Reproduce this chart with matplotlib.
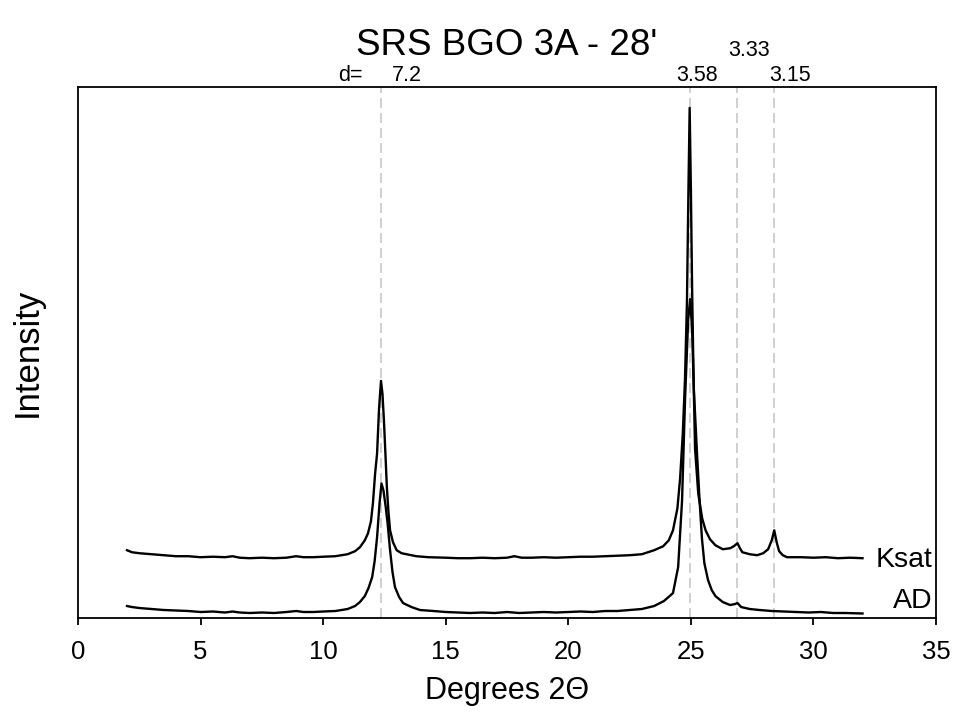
import matplotlib
matplotlib.use("Agg")
import matplotlib.pyplot as plt
from matplotlib.transforms import blended_transform_factory

plt.rcParams['font.family'] = ['Liberation Sans', 'DejaVu Sans']

# ---- data (intensity in arbitrary units) ----
ad_x = [2.0, 2.2, 2.5, 3.0, 3.5, 4.0, 4.5, 5.0, 5.5, 6.0, 6.3, 6.6, 7.0, 7.5, 8.0,
        8.5, 8.9, 9.2, 9.6, 10.0, 10.5, 11.0, 11.3, 11.5, 11.7, 11.85, 12.0, 12.1,
        12.2, 12.3, 12.38, 12.46, 12.55, 12.63, 12.73, 12.83, 12.93, 13.1, 13.26,
        13.6, 13.95, 14.5, 15.0, 15.5, 16.0, 16.5, 17.0, 17.5, 18.0, 18.5, 19.0,
        19.5, 20.0, 20.5, 21.0, 21.5, 22.0, 22.5, 23.0, 23.5, 23.9, 24.27, 24.48,
        24.64, 24.76, 24.89, 24.97, 25.05, 25.12, 25.25, 25.35, 25.45, 25.55, 25.7,
        25.85, 26.0, 26.3, 26.6, 26.8, 26.9, 27.05, 27.4, 27.8, 28.3, 28.8, 29.3,
        29.8, 30.3, 30.8, 31.3, 32.0]
ad_y = [12, 11, 10, 9, 8, 7.5, 7, 6, 6.5, 5.5, 6.5, 5.5, 5, 5.5, 5,
        6, 7, 6, 6, 6.5, 7, 9, 12, 16, 22, 30, 41, 57,
        81, 115, 135, 128, 112, 95, 68, 46, 31, 21, 15,
        11, 8, 7, 6, 5.5, 5, 5.5, 5, 6, 5, 5.5, 6,
        5.5, 6, 6.5, 6, 7, 7, 8, 9, 12, 17, 25, 51,
        118, 218, 300, 320, 290, 230, 165, 120, 80, 55, 38,
        28, 22, 16, 13, 14, 15, 11, 9, 8, 7, 6.5, 6,
        5.5, 6, 5, 5, 4.5]

ksat_x = [2.0, 2.2, 2.5, 3.0, 3.5, 4.0, 4.5, 5.0, 5.5, 6.0, 6.3, 6.6, 7.0, 7.5,
          8.0, 8.5, 8.9, 9.2, 9.6, 10.0, 10.5, 11.0, 11.3, 11.5, 11.7, 11.83, 11.95,
          12.03, 12.12, 12.2, 12.28, 12.36, 12.42, 12.48, 12.54, 12.6, 12.66, 12.73,
          12.85, 13.0, 13.2, 13.4, 13.8, 14.3, 15.0, 15.5, 16.0, 16.5, 17.0, 17.5,
          17.8, 18.1, 18.5, 19.0, 19.5, 20.0, 20.5, 21.0, 21.5, 22.0, 22.5, 23.0,
          23.5, 23.87, 24.1, 24.27, 24.45, 24.56, 24.67, 24.76, 24.84, 24.9, 24.95,
          25.0, 25.05, 25.11, 25.17, 25.3, 25.46, 25.6, 25.78, 26.0, 26.3, 26.6,
          26.75, 26.9, 27.0, 27.1, 27.4, 27.7, 27.95, 28.15, 28.3, 28.4, 28.5, 28.6,
          28.75, 28.92, 29.5, 30.0, 30.5, 31.0, 31.5, 32.0]
ksat_y = [68, 66, 65, 64, 63, 62, 62, 61, 61.5, 61, 62, 60.5, 60, 60.5,
          60, 60.5, 62, 61, 61, 61.5, 62, 64, 67, 71, 78, 85, 97,
          115, 145, 165, 210, 238, 225, 198, 165, 131, 108, 88,
          76, 68, 65, 64, 62, 61, 60.5, 60, 60, 60.5, 60, 60.5,
          62, 60.5, 60.5, 61, 60.5, 61, 61.5, 61.5, 62, 62.5, 63, 64,
          68, 72, 78, 88, 110, 140, 185, 240, 318, 430, 512,
          430, 330, 240, 170, 125, 100, 88, 79, 73, 69, 70,
          72, 75, 70, 66, 64, 63, 65, 69, 78, 88, 76, 67,
          63, 61, 61, 60.5, 61, 60, 60.5, 60]

series_names = ["AD", "Ksat"]
peak_positions = [12.38, 24.95, 26.9, 28.38]
d_labels = ["7.2", "3.58", "3.33", "3.15"]
x_ticks = [0, 5, 10, 15, 20, 25, 30, 35]

# ---- figure ----
fig = plt.figure(figsize=(9.65, 7.19), dpi=100)
ax = fig.add_axes([0.0808, 0.1405, 0.8892, 0.7385])

for p in peak_positions:
    ax.axvline(p, color='#c8c8c8', lw=1.2, ls=(0, (6, 3)), zorder=1)

ax.plot(ad_x, ad_y, color='black', lw=1.7, zorder=3)
ax.plot(ksat_x, ksat_y, color='black', lw=1.7, zorder=3)

ax.set_xlim(0, 35)
ax.set_ylim(0, 533)
ax.set_xticks(x_ticks)
ax.set_yticks([])
ax.tick_params(axis='x', direction='out', length=5, width=1.3, labelsize=18.5, pad=11)
for s in ax.spines.values():
    s.set_linewidth(1.3)

ax.set_xlabel("Degrees 2\u0398", fontsize=22)
ax.xaxis.set_label_coords(0.5, -0.109)
ax.set_ylabel("Intensity", fontsize=25)
ax.yaxis.set_label_coords(-0.04, 0.5)
ax.text(0.5, (618 - 53) / 533, "SRS BGO 3A - 28'", transform=ax.transAxes,
        fontsize=26.5, ha='center', va='baseline')

# series labels at right
ax.text(34.85, 51, series_names[1], ha='right', va='baseline', fontsize=20.5)
ax.text(34.85, 10, series_names[0], ha='right', va='baseline', fontsize=20.5)

# d-spacing labels above axes
tr = blended_transform_factory(ax.transData, ax.transAxes)
ax.text(11.1, 1.0113, "d=", transform=tr, ha='center', va='baseline', fontsize=15.5)
label_x = [13.42, 25.25, 27.37, 29.05]
label_y = [1.0113, 1.0113, 1.058, 1.0113]
for lx, ly, t in zip(label_x, label_y, d_labels):
    ax.text(lx, ly, t, transform=tr, ha='center', va='baseline', fontsize=15.5)

fig.savefig("out.png", dpi=100)
